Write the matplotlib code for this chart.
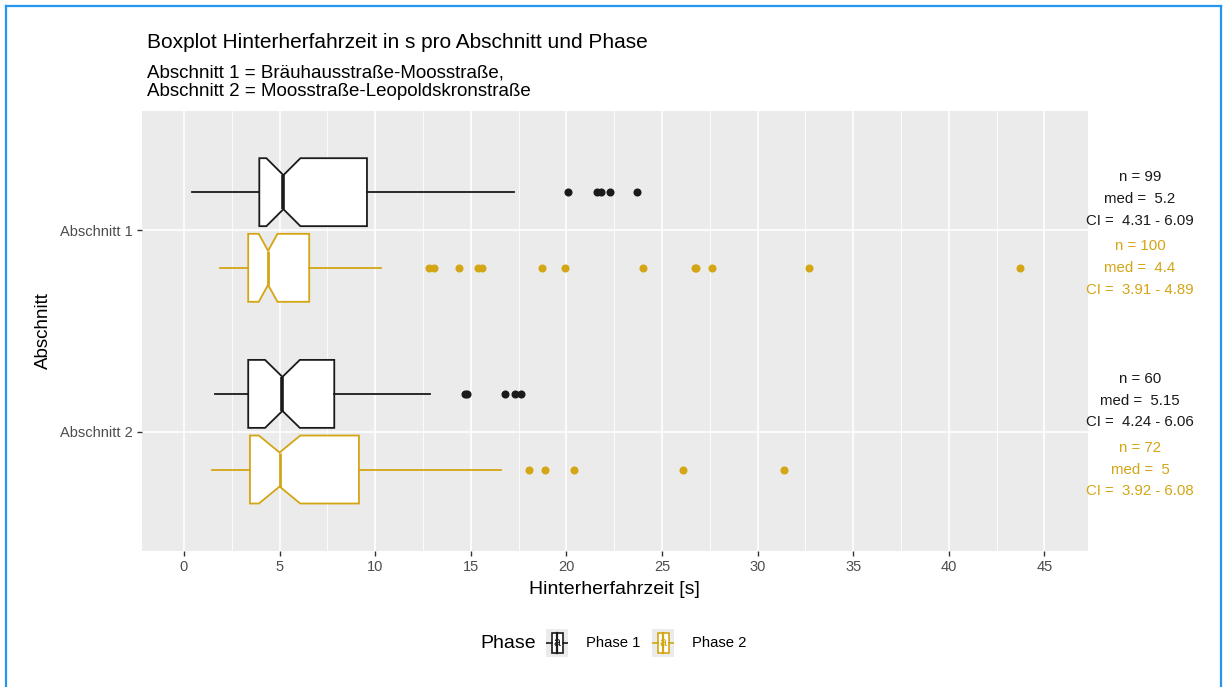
import matplotlib
matplotlib.use('Agg')
import matplotlib.pyplot as plt
from matplotlib.lines import Line2D
from matplotlib.patches import Rectangle

plt.rcParams['font.family'] = ['Liberation Sans', 'DejaVu Sans']

# ---------------- data ----------------
sections = ['Abschnitt 1', 'Abschnitt 2']
phases = ['Phase 1', 'Phase 2']
colors = ['#1a1a1a', '#D4A514']

n_vals = [[99, 100], [60, 72]]
whislo = [[0.40, 1.88], [1.62, 1.45]]
q1 = [[3.94, 3.36], [3.36, 3.45]]
med = [[5.2, 4.4], [5.15, 5.0]]
ci_lo = [[4.31, 3.91], [4.24, 3.92]]
ci_hi = [[6.09, 4.89], [6.06, 6.08]]
q3 = [[9.57, 6.55], [7.86, 9.15]]
whishi = [[17.27, 10.28], [12.86, 16.56]]
fliers = [
    [[20.1, 21.6, 21.8, 22.3, 23.7],
     [12.8, 13.1, 14.4, 15.4, 15.6, 18.7, 19.9, 24.0, 26.7, 26.8, 27.6, 32.7, 43.7]],
    [[14.7, 14.8, 16.8, 17.3, 17.6],
     [18.05, 18.9, 20.4, 26.1, 31.4]],
]
x_ticks = [0, 5, 10, 15, 20, 25, 30, 35, 40, 45]
x_minor = [2.5, 7.5, 12.5, 17.5, 22.5, 27.5, 32.5, 37.5, 42.5]

title = 'Boxplot Hinterherfahrzeit in s pro Abschnitt und Phase'
subtitle_lines = ['Abschnitt 1 = Bräuhausstraße-Moosstraße,',
                  'Abschnitt 2 = Moosstraße-Leopoldskronstraße']
xlabel = 'Hinterherfahrzeit [s]'
ylabel = 'Abschnitt'
legend_title = 'Phase'

# ---------------- figure ----------------
W, H = 1227, 687
fig = plt.figure(figsize=(W / 100, H / 100), dpi=100)
ax = fig.add_axes([141.7 / W, 1 - 550.7 / H, (1087.7 - 141.7) / W, (550.7 - 111) / H])
ax.set_facecolor('#EBEBEB')
for s in ax.spines.values():
    s.set_visible(False)

dodge = 0.1875
bw = 0.337
text_shift = [0.033, 0.0]
for i, sec in enumerate(sections):
    for j, ph in enumerate(phases):
        c = colors[j]
        pos = i + 1 + (j - 0.5) * 2 * dodge
        st = [dict(whislo=whislo[i][j], q1=q1[i][j], med=med[i][j], q3=q3[i][j],
                   whishi=whishi[i][j], cilo=ci_lo[i][j], cihi=ci_hi[i][j],
                   fliers=fliers[i][j])]
        kw = dict(positions=[pos], widths=bw, shownotches=True, showcaps=False,
                  patch_artist=True, manage_ticks=False,
                  boxprops=dict(facecolor='white', edgecolor=c, linewidth=1.3),
                  whiskerprops=dict(color=c, linewidth=1.3),
                  medianprops=dict(color=c, linewidth=2.6 if j == 0 else 2.0),
                  flierprops=dict(marker='o', markerfacecolor=c, markeredgecolor=c,
                                  markersize=4.8, linestyle='none'),
                  zorder=3)
        try:
            ax.bxp(st, orientation='horizontal', **kw)
        except TypeError:
            ax.bxp(st, vert=False, **kw)
        txt = 'n = {}\nmed =  {:g}\nCI =  {:.2f} - {:.2f}'.format(
            n_vals[i][j], med[i][j], ci_lo[i][j], ci_hi[i][j])
        ax.text(50, pos + text_shift[j], txt, ha='center', va='center', color=c,
                fontsize=10.8, linespacing=1.70, clip_on=False)

ax.set_xlim(-2.21, 47.26)
ax.set_ylim(2.59, 0.41)
ax.set_xticks(x_ticks)
ax.set_xticks(x_minor, minor=True)
ax.set_yticks([1, 2])
ax.set_yticklabels(sections)
ax.set_axisbelow(True)
ax.grid(which='major', color='white', linewidth=1.2)
ax.grid(which='minor', axis='x', color='white', linewidth=0.6)
ax.tick_params(which='major', length=3.5, width=1, color='#333333',
               labelsize=10.5, labelcolor='#4D4D4D', pad=3)
ax.tick_params(which='minor', length=0)
ax.set_xlabel(xlabel, fontsize=14, color='black', labelpad=5)
ax.set_ylabel(ylabel, fontsize=13.5, color='black', labelpad=6)

# titles
fig.text(147 / W, 1 - 43 / H, title, fontsize=15, ha='left', va='center')
fig.text(147 / W, 1 - 73 / H, subtitle_lines[0], fontsize=13.5, ha='left', va='center')
fig.text(147 / W, 1 - 91.5 / H, subtitle_lines[1], fontsize=13.5, ha='left', va='center')

# legend (manual, ggplot-like)
fig.text(480 / W, 1 - 643 / H, legend_title, fontsize=14, ha='left', va='center')
key_x = [546, 652]
lab_x = [586, 692]
for j, ph in enumerate(phases):
    c = colors[j]
    kax = fig.add_axes([key_x[j] / W, 1 - 657 / H, 22 / W, 28 / H])
    kax.set_xlim(0, 1)
    kax.set_ylim(0, 1)
    kax.axis('off')
    kax.add_patch(Rectangle((0, 0), 1, 1, facecolor='#EBEBEB', edgecolor='none'))
    kax.add_patch(Rectangle((0.27, 0.15), 0.5, 0.7, facecolor='white', edgecolor=c, lw=1.2))
    kax.add_line(Line2D([0.0, 0.27], [0.5, 0.5], color=c, lw=1.2))
    kax.add_line(Line2D([0.77, 1.0], [0.5, 0.5], color=c, lw=1.2))
    kax.add_line(Line2D([0.52, 0.52], [0.15, 0.85], color=c, lw=1.6))
    kax.text(0.52, 0.5, 'a', color=c, fontsize=9, ha='center', va='center')
    fig.text(lab_x[j] / W, 1 - 643 / H, ph, fontsize=10.7, ha='left', va='center')

# blue frame
fig.add_artist(Line2D([6 / W, 6 / W], [0, 1 - 6 / H], color='#2196F3', lw=1.6))
fig.add_artist(Line2D([6 / W, 1221 / W], [1 - 6 / H, 1 - 6 / H], color='#2196F3', lw=1.6))
fig.add_artist(Line2D([1221 / W, 1221 / W], [0, 1 - 6 / H], color='#2196F3', lw=1.6))

fig.savefig('out.png', dpi=100)
